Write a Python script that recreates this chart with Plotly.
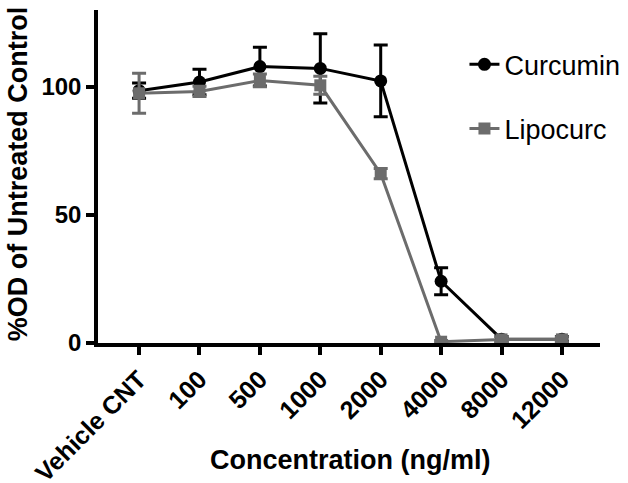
import plotly.graph_objects as go

categories = ["Vehicle CNT", "100", "500", "1000", "2000", "4000", "8000", "12000"]
curcumin = [98.5, 101.9, 107.9, 107.2, 102.3, 24.1, 1.5, 1.5]
curcumin_err = [3.0, 5.0, 7.6, 13.5, 14.0, 5.3, 1.0, 1.0]
lipocurc = [97.5, 98.2, 102.5, 100.6, 66.1, 0.5, 1.4, 1.4]
lipocurc_err = [7.8, 2.0, 2.5, 3.5, 2.0, 0.5, 1.0, 1.0]
y_ticks = [0, 50, 100]

FONT = "Liberation Sans, Arial, sans-serif"
GREY = "#6c6c6c"

fig = go.Figure()
fig.add_trace(go.Scatter(
    x=categories, y=curcumin, name="Curcumin", mode="lines+markers",
    line=dict(color="black", width=3),
    marker=dict(symbol="circle", size=13, color="black"),
    error_y=dict(type="data", array=curcumin_err, visible=True, color="black", thickness=3, width=7),
    legendgroup="a",
))
fig.add_trace(go.Scatter(
    x=categories, y=lipocurc, name="Lipocurc", mode="lines+markers",
    line=dict(color=GREY, width=3),
    marker=dict(symbol="square", size=12, color=GREY),
    error_y=dict(type="data", array=lipocurc_err, visible=True, color=GREY, thickness=3, width=7),
    legendgroup="b",
))

fig.update_layout(
    width=628, height=483,
    margin=dict(l=98, r=28, t=10, b=140, autoexpand=False),
    plot_bgcolor="white", paper_bgcolor="white",
    font=dict(family=FONT, color="black"),
    showlegend=True,
    legend=dict(
        x=0.73, y=0.909, xanchor="left", yanchor="top",
        font=dict(size=27, family=FONT, color="black"),
        tracegroupgap=26, bgcolor="rgba(0,0,0,0)",
    ),
    xaxis=dict(
        type="category", range=[-0.68, 7.63], automargin=False,
        showline=True, linecolor="black", linewidth=3.5,
        ticks="outside", ticklen=8, tickwidth=3.5, tickcolor="black",
        tickangle=-45, tickfont=dict(size=25, weight="bold"),
        showgrid=False, zeroline=False,
    ),
    yaxis=dict(
        range=[0, 130], tickvals=y_ticks, automargin=False,
        showline=True, linecolor="black", linewidth=3.5,
        ticks="outside", ticklen=8, tickwidth=3.5, tickcolor="black",
        tickfont=dict(size=24, weight="bold"),
        showgrid=False, zeroline=False,
    ),
    annotations=[
        dict(text="<b>Concentration (ng/ml)</b>", xref="paper", yref="paper",
             x=0.502, y=-0.351, xanchor="center", yanchor="middle",
             showarrow=False, font=dict(size=27)),
        dict(text="<b>%OD of Untreated Control</b>", xref="paper", yref="paper",
             x=-0.16, y=0.509, xanchor="center", yanchor="middle", textangle=-90,
             showarrow=False, font=dict(size=27)),
    ],
)

fig.write_html("out.html", config={"displayModeBar": False},
               post_script="document.body.style.margin='0';document.body.style.overflow='hidden';")
